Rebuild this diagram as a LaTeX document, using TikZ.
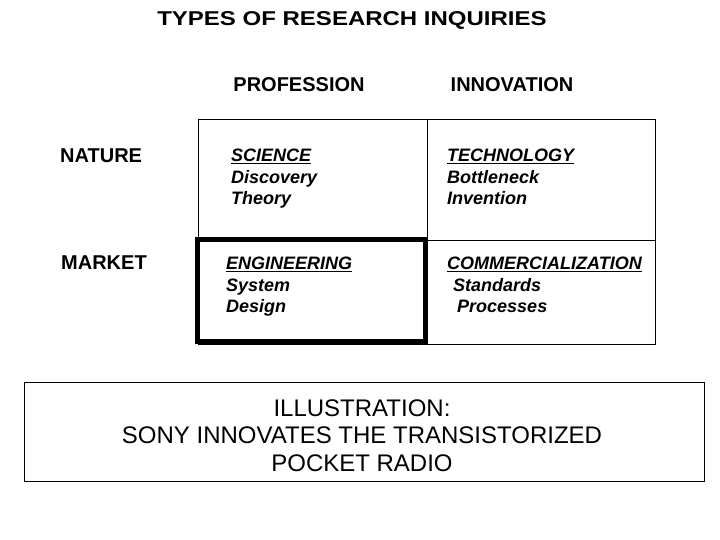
\documentclass[tikz,border=0pt]{standalone}
\usepackage{fontspec}
\setmainfont{Liberation Sans}
\usepackage{graphicx}

% underline drawn a bit heavier than \underline
\newcommand{\celltitle}[1]{\setbox0\hbox{#1}\rlap{\rule[-2.5pt]{\wd0}{1.5pt}}\box0}

\tikzset{
  heading/.style={font=\fontsize{20}{24}\selectfont\bfseries},
  cell/.style={anchor=north west, inner sep=0pt, align=left,
    font=\fontsize{18}{21.5}\selectfont\bfseries\itshape},
  grid/.style={draw=black, line width=1pt},
}

\begin{document}
\begin{tikzpicture}[x=1pt,y=-1pt]
\useasboundingbox (0,0) rectangle (720,540);

% headings
\node[heading] (title) at (352,20.5) {\scalebox{1.2}[1]{TYPES OF RESEARCH INQUIRIES}};
\node[heading] (prof) at (299,85) {PROFESSION};
\node[heading] (innov) at (512,85) {INNOVATION};
\node[heading, anchor=west, inner sep=0pt] (nature) at (60,155.5) {NATURE};
\node[heading, anchor=west, inner sep=0pt] (market) at (61,262.5) {MARKET};

% the 2x2 grid
\draw[grid] (198,120) rectangle (655,344);
\draw[grid] (427,120) -- (427,344);
\draw[grid] (198,240) -- (655,240);
\draw[line width=5pt] (197.5,239) rectangle (425.5,341);

\node[cell] (science) at (231,149) {\celltitle{SCIENCE}\\Discovery\\Theory};
\node[cell] (techno) at (447,149) {\celltitle{TECHNOLOGY}\\Bottleneck\\Invention};
\node[cell] (engin) at (226,257) {\celltitle{ENGINEERING}\\System\\Design};
\node[cell] (commerce) at (447,257) {\celltitle{COMMERCIALIZATION}\\\hspace*{6pt}Standards\\\hspace*{10pt}Processes};

% illustration box
\draw[grid] (24,382) rectangle (704,481);
\node[align=center, font=\fontsize{24}{27.5}\selectfont] (illus) at (362,435.5)
  {ILLUSTRATION:\\SONY INNOVATES THE TRANSISTORIZED\\POCKET RADIO};
\end{tikzpicture}
\end{document}
